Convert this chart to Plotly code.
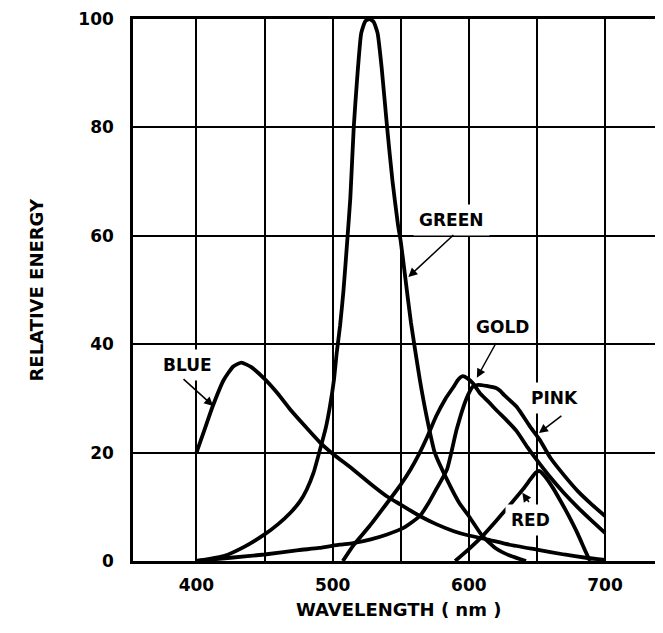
import plotly.graph_objects as go

# ---- data ----
blue_x = [400, 406, 412, 420, 427, 433, 440, 450, 460, 469, 480, 491, 500, 515, 530, 540, 550, 564, 576, 589, 600, 613, 630, 650, 670, 686, 700]
blue_y = [20, 24.3, 28.6, 33.4, 35.9, 36.6, 35.8, 33.6, 30.8, 27.9, 24.8, 21.8, 19.8, 16.9, 13.8, 11.9, 10.4, 8.3, 6.8, 5.5, 4.7, 4.0, 3.0, 2.1, 1.2, 0.6, 0.2]

green_x = [400, 420, 435, 450, 460, 469, 476, 481, 486, 491, 495, 498, 501, 503, 505.5, 508, 511, 513, 515.5, 518, 521, 524, 527, 530, 533, 536, 540, 544, 548, 550, 553, 557.5, 564, 569, 575, 584, 593, 600, 610, 620, 630, 642]
green_y = [0, 0.9, 2.6, 4.9, 6.8, 8.9, 11.0, 13.2, 16.3, 20.8, 24.6, 28.5, 33.5, 38.4, 43.5, 50, 60, 67, 80, 89, 97.4, 99.6, 100, 99.5, 97.4, 91, 80, 70, 62, 59, 53, 44, 33.5, 26.7, 20, 15, 10.7, 8.3, 4.6, 2.3, 1.0, 0]

gold_x = [507.5, 515, 527, 540, 550, 557, 564, 570, 576, 583, 589, 592, 595.5, 599, 603, 608, 614, 620, 628, 635, 643, 650, 660, 670, 680, 690, 700]
gold_y = [0, 2.8, 6.4, 10.7, 14.1, 16.8, 20, 23.2, 26.7, 30, 32.2, 33.4, 34.1, 33.7, 32.8, 31.0, 29.5, 27.9, 25.9, 24.0, 21.0, 18.6, 15.4, 12.5, 9.9, 7.5, 5.2]

pink_x = [400, 425, 450, 475, 490, 505, 515, 528, 540, 552, 564, 570, 576, 584, 591, 598, 603, 607, 613, 620, 623, 626, 635, 645, 652, 660, 670, 680, 690, 700]
pink_y = [0, 0.6, 1.2, 2.0, 2.4, 3.0, 3.3, 4.0, 4.9, 6.1, 8.3, 10.5, 13.2, 16.9, 24.2, 29.8, 32.2, 32.5, 32.3, 31.9, 31.4, 30.6, 28.5, 24.8, 22.4, 19.0, 15.8, 12.9, 10.5, 8.3]

red_x = [590, 600, 610, 620, 630, 640, 645, 649, 652, 656, 662, 668, 673, 680, 686, 689]
red_y = [0, 2.2, 4.6, 7.4, 10.3, 13.3, 15.0, 16.3, 16.6, 15.6, 13.4, 10.8, 8.5, 5.0, 1.6, 0]

x_ticks = [400, 450, 500, 550, 600, 650, 700]
x_tick_text = ["400", "", "500", "", "600", "", "700"]
y_ticks = [0, 20, 40, 60, 80, 100]
y_tick_text = ["0", "20", "40", "60", "80", "100"]

# label: (text, text_x, text_y, tail_x, tail_y, head_x, head_y)
labels = [
    ("GREEN", 587, 62.9, 589.8, 60.4, 555.6, 52.4),
    ("GOLD", 625, 43.2, 620.6, 40.5, 605.9, 33.8),
    ("PINK", 663.2, 30.0, 669.1, 27.0, 651.5, 23.6),
    ("RED", 645.6, 7.65, 644.9, 10.6, 639.3, 12.6),
    ("BLUE", 393.4, 36.2, 389.4, 33.8, 412.3, 28.6),
]

FONT = "DejaVu Sans"

fig = go.Figure()
for xs, ys in [(blue_x, blue_y), (green_x, green_y), (gold_x, gold_y), (pink_x, pink_y), (red_x, red_y)]:
    fig.add_trace(go.Scatter(x=xs, y=ys, mode="lines",
                             line=dict(color="black", width=3.8, shape="spline", smoothing=0.5),
                             hoverinfo="skip", showlegend=False))

annotations = []
for text, tx, ty, ax, ay, hx, hy in labels:
    annotations.append(dict(x=tx, y=ty, xref="x", yref="y", text=text, showarrow=False,
                            font=dict(family=FONT, size=17, color="black", weight="bold"),
                            bgcolor="white", borderpad=5))
    annotations.append(dict(x=hx, y=hy, xref="x", yref="y", ax=ax, ay=ay, axref="x", ayref="y",
                            text="", showarrow=True, arrowhead=2, arrowsize=1.2,
                            arrowwidth=1.5, arrowcolor="black"))

annotations.append(dict(x=-0.2075, y=0.5, xref="paper", yref="paper", text="RELATIVE ENERGY",
                        textangle=-90, showarrow=False,
                        font=dict(family=FONT, size=18, color="black", weight="bold")))
annotations.append(dict(x=0.5, y=-0.1125, xref="paper", yref="paper", text="WAVELENGTH ( nm )",
                        showarrow=False,
                        font=dict(family=FONT, size=18, color="black", weight="bold")))

# page body has an 8px margin, so the figure is sized to fit inside the 663x633 window
fig.update_layout(
    width=655, height=617,
    margin=dict(l=125, r=0, t=11, b=64, autoexpand=False),
    paper_bgcolor="white", plot_bgcolor="white",
    showlegend=False,
    annotations=annotations,
    xaxis=dict(range=[353.4, 742.6], tickvals=x_ticks, ticktext=x_tick_text,
               showgrid=True, gridcolor="black", gridwidth=2,
               showline=True, linecolor="black", linewidth=2.5, mirror=True,
               zeroline=False, ticks="", ticklabelstandoff=7, automargin=False,
               tickfont=dict(family=FONT, size=17, color="black", weight="bold")),
    yaxis=dict(range=[0, 100], tickvals=y_ticks, ticktext=y_tick_text,
               showgrid=True, gridcolor="black", gridwidth=2,
               showline=True, linecolor="black", linewidth=2.5, mirror=False,
               zeroline=False, ticks="", ticklabelstandoff=13, automargin=False,
               tickfont=dict(family=FONT, size=17, color="black", weight="bold")),
)

fig.write_html("out.html")
